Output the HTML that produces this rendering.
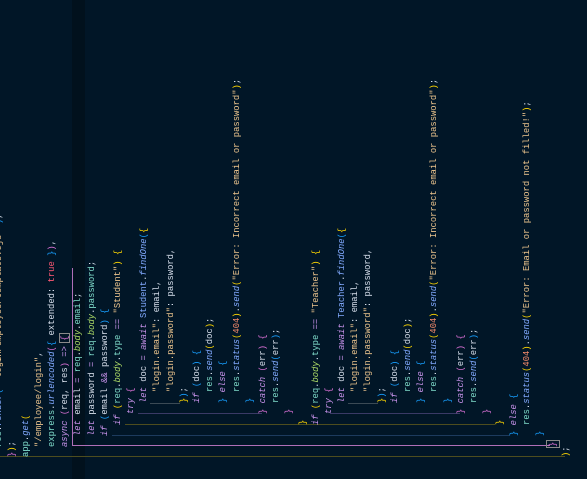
<!DOCTYPE html>
<html><head><meta charset="utf-8"><style>
html,body{margin:0;padding:0;width:587px;height:479px;overflow:hidden;background:#011627;}
#band{position:absolute;left:72px;top:0;width:13px;height:479px;background:#01111d;}
.g{position:absolute;height:1px;}
#rot{position:absolute;left:0;top:479px;width:479px;height:620px;transform-origin:0 0;transform:rotate(-90deg);}
#code{position:absolute;left:0;top:-6.8px;width:479px;}
.l{height:13.2px;line-height:13.2px;white-space:pre;font-family:"Liberation Mono",monospace;font-size:8.85px;color:#d6deeb;position:relative;}
.l .c{position:absolute;top:0;}
.k{color:#c792ea;font-style:italic}
.r{color:#7fdbca}
.p{color:#addb67;font-style:italic}
.f{color:#82aaff;font-style:italic}
.s{color:#ecc48d}
.n{color:#f78c6c}
.t{color:#ff5874}
.o{color:#c792ea}
.y{color:#ffd700}.m{color:#da70d6}.b{color:#179fff}
.cl{color:#82aaff}
</style></head><body>
<div id="band"></div>
<div class="g" style="top:435px;left:112px;width:398px;background:#1d3b5e"></div>
<div class="g" style="top:424px;left:125px;width:370px;background:#4d4d1e"></div>
<div class="g" style="top:413px;left:138px;width:124px;background:#3a3a66"></div>
<div class="g" style="top:413px;left:330px;width:130px;background:#3a3a66"></div>
<div class="g" style="top:403px;left:150px;width:30px;background:#3b4a55"></div>
<div class="g" style="top:403px;left:348px;width:30px;background:#3b4a55"></div>
<div class="g" style="top:445px;left:72px;width:478px;background:#b06fb8"></div>
<div class="g" style="top:456px;left:0px;width:565px;background:#4d4d1e"></div>
<div style="position:absolute;left:72px;top:268px;width:1px;height:177px;background:#b06fb8"></div>
<div style="position:absolute;left:59px;top:333px;width:9px;height:8px;border:1px solid #8a8a8a"></div>
<div style="position:absolute;left:546px;top:440px;width:12px;height:6px;border:1px solid #8a8a8a"></div>
<div id="rot"><div id="code">
<div class="l"><span class="c" style="left:32px"><span class="r">res</span>.<span class="f">render</span><span class="b">(</span> <span class="s">'login/employee/template.ejs'</span> <span class="b">)</span>,</span></div>
<div class="l"><span class="c" style="left:22px"><span class="m">}</span><span class="y">)</span>;</span></div>
<div class="l"><span class="c" style="left:22px"><span class="r">app</span>.<span class="f">get</span><span class="y">(</span></span></div>
<div class="l"><span class="c" style="left:32px"><span class="s">"/employee/login"</span>,</span></div>
<div class="l"><span class="c" style="left:32px"><span class="r">express</span>.<span class="f">urlencoded</span><span class="m">(</span><span class="b">{</span> extended: <span class="t">true</span> <span class="b">}</span><span class="m">)</span>,</span></div>
<div class="l"><span class="c" style="left:32px"><span class="k">async</span> <span class="m">(</span>req, res<span class="m">)</span> <span class="o">=&gt;</span> <span class="m">{</span></span></div>
<div class="l"><span class="c" style="left:43px"><span class="k">let</span> email <span class="o">=</span> <span class="r">req</span>.<span class="p">body</span>.<span class="r">email</span>;</span></div>
<div class="l"><span class="c" style="left:43px"><span class="k">let</span> password <span class="o">=</span> <span class="r">req</span>.<span class="p">body</span>.<span class="r">password</span>;</span></div>
<div class="l"><span class="c" style="left:43px"><span class="k">if</span> <span class="b">(</span>email <span class="o">&amp;&amp;</span> password<span class="b">)</span> <span class="b">{</span></span></div>
<div class="l"><span class="c" style="left:54px"><span class="k">if</span> <span class="y">(</span><span class="r">req</span>.<span class="p">body</span>.<span class="r">type</span> <span class="o">==</span> <span class="s">"Student"</span><span class="y">)</span> <span class="y">{</span></span></div>
<div class="l"><span class="c" style="left:65px"><span class="k">try</span> <span class="m">{</span></span></div>
<div class="l"><span class="c" style="left:76px"><span class="k">let</span> doc <span class="o">=</span> <span class="k">await</span> <span class="cl">Student</span>.<span class="f">findOne</span><span class="b">(</span><span class="y">{</span></span></div>
<div class="l"><span class="c" style="left:87px"><span class="s">"login.email"</span>: email,</span></div>
<div class="l"><span class="c" style="left:87px"><span class="s">"login.password"</span>: password,</span></div>
<div class="l"><span class="c" style="left:76px"><span class="y">}</span><span class="b">)</span>;</span></div>
<div class="l"><span class="c" style="left:76px"><span class="k">if</span> <span class="b">(</span>doc<span class="b">)</span> <span class="b">{</span></span></div>
<div class="l"><span class="c" style="left:87px"><span class="r">res</span>.<span class="f">send</span><span class="y">(</span>doc<span class="y">)</span>;</span></div>
<div class="l"><span class="c" style="left:76px"><span class="b">}</span> <span class="k">else</span> <span class="b">{</span></span></div>
<div class="l"><span class="c" style="left:87px"><span class="r">res</span>.<span class="f">status</span><span class="y">(</span><span class="n">404</span><span class="y">)</span>.<span class="f">send</span><span class="y">(</span><span class="s">"Error: Incorrect email or password"</span><span class="y">)</span>;</span></div>
<div class="l"><span class="c" style="left:76px"><span class="b">}</span></span></div>
<div class="l"><span class="c" style="left:65px"><span class="m">}</span> <span class="k">catch</span> <span class="m">(</span>err<span class="m">)</span> <span class="m">{</span></span></div>
<div class="l"><span class="c" style="left:76px"><span class="r">res</span>.<span class="f">send</span><span class="b">(</span>err<span class="b">)</span>;</span></div>
<div class="l"><span class="c" style="left:65px"><span class="m">}</span></span></div>
<div class="l"><span class="c" style="left:54px"><span class="y">}</span></span></div>
<div class="l"><span class="c" style="left:54px"><span class="k">if</span> <span class="y">(</span><span class="r">req</span>.<span class="p">body</span>.<span class="r">type</span> <span class="o">==</span> <span class="s">"Teacher"</span><span class="y">)</span> <span class="y">{</span></span></div>
<div class="l"><span class="c" style="left:65px"><span class="k">try</span> <span class="m">{</span></span></div>
<div class="l"><span class="c" style="left:76px"><span class="k">let</span> doc <span class="o">=</span> <span class="k">await</span> <span class="cl">Teacher</span>.<span class="f">findOne</span><span class="b">(</span><span class="y">{</span></span></div>
<div class="l"><span class="c" style="left:87px"><span class="s">"login.email"</span>: email,</span></div>
<div class="l"><span class="c" style="left:87px"><span class="s">"login.password"</span>: password,</span></div>
<div class="l"><span class="c" style="left:76px"><span class="y">}</span><span class="b">)</span>;</span></div>
<div class="l"><span class="c" style="left:76px"><span class="k">if</span> <span class="b">(</span>doc<span class="b">)</span> <span class="b">{</span></span></div>
<div class="l"><span class="c" style="left:87px"><span class="r">res</span>.<span class="f">send</span><span class="y">(</span>doc<span class="y">)</span>;</span></div>
<div class="l"><span class="c" style="left:76px"><span class="b">}</span> <span class="k">else</span> <span class="b">{</span></span></div>
<div class="l"><span class="c" style="left:87px"><span class="r">res</span>.<span class="f">status</span><span class="y">(</span><span class="n">404</span><span class="y">)</span>.<span class="f">send</span><span class="y">(</span><span class="s">"Error: Incorrect email or password"</span><span class="y">)</span>;</span></div>
<div class="l"><span class="c" style="left:76px"><span class="b">}</span></span></div>
<div class="l"><span class="c" style="left:65px"><span class="m">}</span> <span class="k">catch</span> <span class="m">(</span>err<span class="m">)</span> <span class="m">{</span></span></div>
<div class="l"><span class="c" style="left:76px"><span class="r">res</span>.<span class="f">send</span><span class="b">(</span>err<span class="b">)</span>;</span></div>
<div class="l"><span class="c" style="left:65px"><span class="m">}</span></span></div>
<div class="l"><span class="c" style="left:54px"><span class="y">}</span></span></div>
<div class="l"><span class="c" style="left:43px"><span class="b">}</span> <span class="k">else</span> <span class="b">{</span></span></div>
<div class="l"><span class="c" style="left:54px"><span class="r">res</span>.<span class="f">status</span><span class="y">(</span><span class="n">404</span><span class="y">)</span>.<span class="f">send</span><span class="y">(</span><span class="s">"Error: Email or password not filled!"</span><span class="y">)</span>;</span></div>
<div class="l"><span class="c" style="left:43px"><span class="b">}</span></span></div>
<div class="l"><span class="c" style="left:32px"><span class="m">}</span></span></div>
<div class="l"><span class="c" style="left:22px"><span class="y">)</span>;</span></div>
</div></div>
</body></html>
